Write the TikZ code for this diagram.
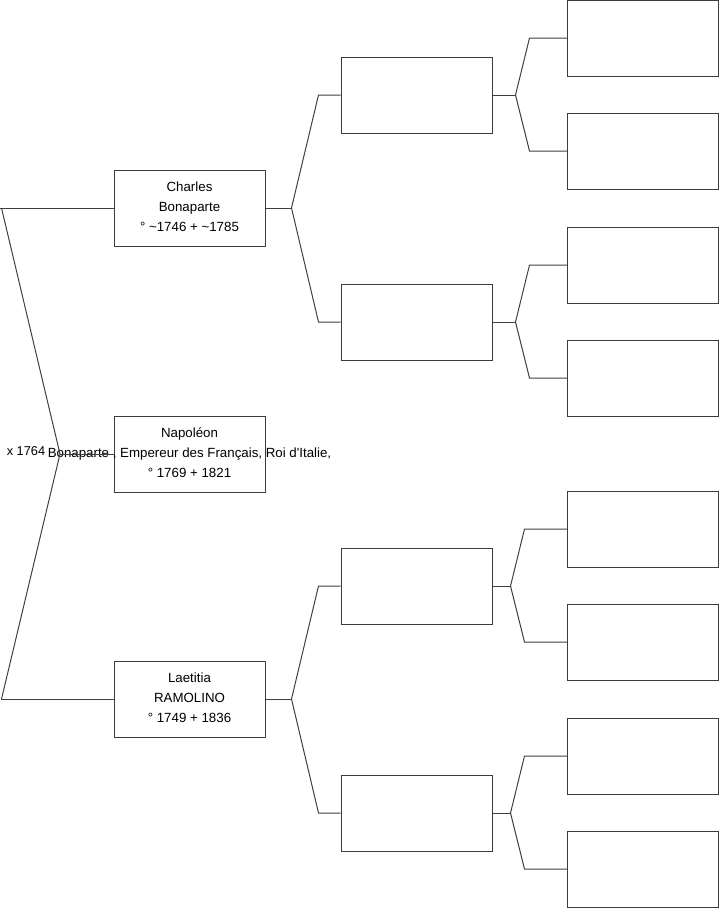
\documentclass[tikz,border=0pt]{standalone}
\usepackage{fontspec}
\setmainfont{Liberation Sans}
\usetikzlibrary{positioning}
\definecolor{boxline}{HTML}{3C3C3C}
\definecolor{linkline}{HTML}{404040}

\begin{document}
\begin{tikzpicture}[
  x=1pt, y=-1pt,
  every node/.style={font=\fontsize{13.3}{20}\selectfont},
  person/.style={draw=boxline, line width=1pt, minimum width=151pt,
                 minimum height=76pt, inner sep=0pt},
  info/.style={align=center, inner sep=0pt, yshift=1.5pt},
  link/.style={draw=linkline, line width=1pt}
]
\useasboundingbox (0,0) rectangle (719,908);

% Generation 1 -- parents and child
\node[person, label={[info]center:{Charles\\Bonaparte\\° \textasciitilde 1746 + \textasciitilde 1785}}] (ch) at (189.5,208) {};
\node[person, label={[info]center:{Napoléon\\Bonaparte , Empereur des Français, Roi d\textquotesingle Italie,\\° 1769 + 1821}}] (nap) at (189.5,454) {};
\node[person, label={[info]center:{Laetitia\\RAMOLINO\\° 1749 + 1836}}] (lae) at (189.5,699) {};

% Generation 2 -- grandparents (empty)
\node[person] (gp1) at (416.5,95) {};
\node[person] (gp2) at (416.5,322) {};
\node[person] (gp3) at (416.5,586) {};
\node[person] (gp4) at (416.5,813) {};

% Generation 3 -- great-grandparents (empty)
\node[person] (ggp1) at (643,38) {};
\node[person] (ggp2) at (643,151) {};
\node[person] (ggp3) at (643,265) {};
\node[person] (ggp4) at (643,378) {};
\node[person] (ggp5) at (643,529) {};
\node[person] (ggp6) at (643,642) {};
\node[person] (ggp7) at (643,756) {};
\node[person] (ggp8) at (643,869) {};

% Marriage
\coordinate (mar) at (60,454);
\node[inner sep=0pt, font=\fontsize{12.8}{20}\selectfont] (marDate) at (26,451) {x 1764};
\draw[link] (ch.west) -- ([xshift=-113.5pt]ch.west);
\draw[link] (lae.west) -- ([xshift=-112.5pt]lae.west);
\draw[link] ([xshift=-112pt]ch.west) -- (mar) -- ([xshift=-112pt]lae.west);
\draw[link] (mar) -- (nap.west);

% Junctions
\coordinate (jCh)  at ([xshift=26pt]ch.east);
\coordinate (jLae) at ([xshift=26pt]lae.east);
\coordinate (jGp1) at ([xshift=23pt]gp1.east);
\coordinate (jGp2) at ([xshift=23pt]gp2.east);
\coordinate (jGp3) at ([xshift=18pt]gp3.east);
\coordinate (jGp4) at ([xshift=18pt]gp4.east);

% Edges: Gen 1 -> Gen 2
\draw[link] (ch.east) -- (jCh);
\draw[link] (jCh) -- ([xshift=-22pt]gp1.west) -- (gp1.west);
\draw[link] (jCh) -- ([xshift=-22pt]gp2.west) -- (gp2.west);
\draw[link] (lae.east) -- (jLae);
\draw[link] (jLae) -- ([xshift=-22pt]gp3.west) -- (gp3.west);
\draw[link] (jLae) -- ([xshift=-22pt]gp4.west) -- (gp4.west);

% Edges: Gen 2 -> Gen 3
\draw[link] (gp1.east) -- (jGp1);
\draw[link] (jGp1) -- ([xshift=-37.5pt]ggp1.west) -- (ggp1.west);
\draw[link] (jGp1) -- ([xshift=-37.5pt]ggp2.west) -- (ggp2.west);
\draw[link] (gp2.east) -- (jGp2);
\draw[link] (jGp2) -- ([xshift=-37.5pt]ggp3.west) -- (ggp3.west);
\draw[link] (jGp2) -- ([xshift=-37.5pt]ggp4.west) -- (ggp4.west);
\draw[link] (gp3.east) -- (jGp3);
\draw[link] (jGp3) -- ([xshift=-42.5pt]ggp5.west) -- (ggp5.west);
\draw[link] (jGp3) -- ([xshift=-42.5pt]ggp6.west) -- (ggp6.west);
\draw[link] (gp4.east) -- (jGp4);
\draw[link] (jGp4) -- ([xshift=-42.5pt]ggp7.west) -- (ggp7.west);
\draw[link] (jGp4) -- ([xshift=-42.5pt]ggp8.west) -- (ggp8.west);

\end{tikzpicture}
\end{document}
